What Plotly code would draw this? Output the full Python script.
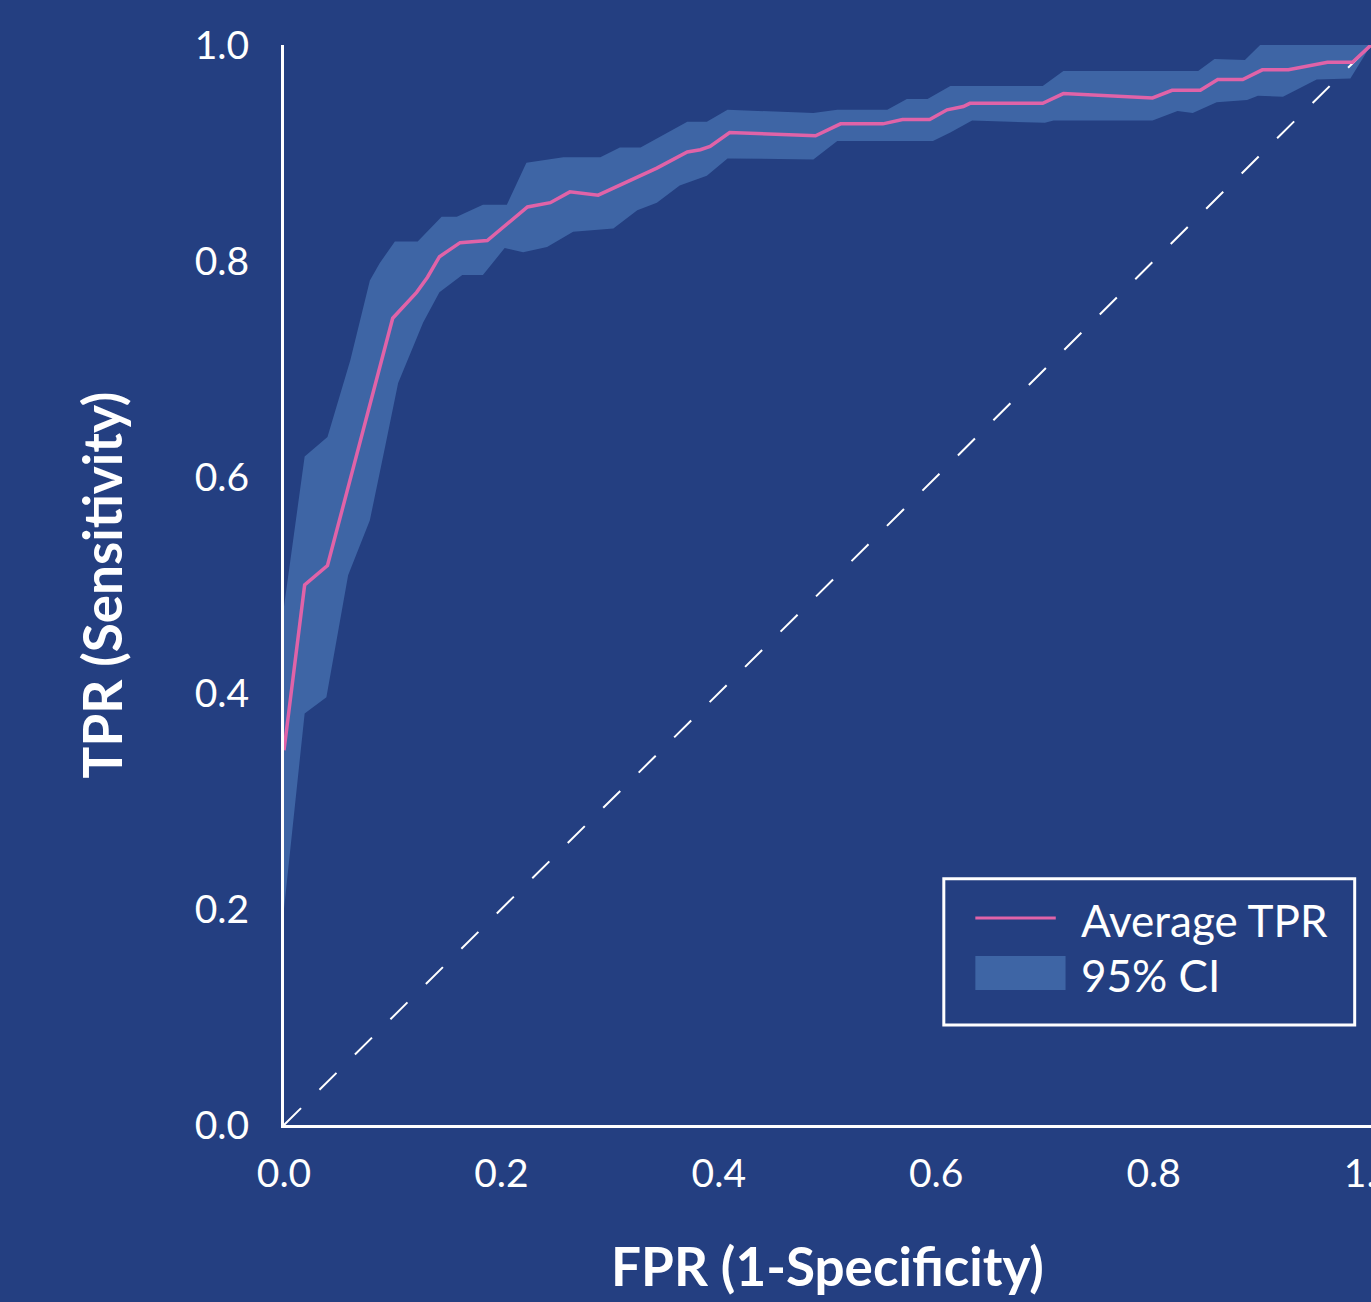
import plotly.graph_objects as go

# ---- data ----
mean_fpr = [0.0, 0.019, 0.040, 0.100, 0.122, 0.132, 0.143, 0.162, 0.187, 0.224, 0.245,
            0.263, 0.289, 0.343, 0.371, 0.383, 0.392, 0.410, 0.489, 0.512, 0.551, 0.569,
            0.594, 0.610, 0.625, 0.631, 0.698, 0.717, 0.799, 0.817, 0.843, 0.859, 0.882,
            0.900, 0.924, 0.960, 0.983, 1.0]
mean_tpr = [0.347, 0.500, 0.518, 0.747, 0.771, 0.785, 0.804, 0.817, 0.819, 0.850, 0.854,
            0.864, 0.861, 0.886, 0.901, 0.903, 0.906, 0.919, 0.916, 0.927, 0.927, 0.931,
            0.931, 0.940, 0.943, 0.946, 0.946, 0.955, 0.951, 0.958, 0.958, 0.968, 0.968,
            0.977, 0.977, 0.984, 0.984, 1.0]

upper_fpr = [0.0, 0.019, 0.040, 0.061, 0.079, 0.088, 0.102, 0.123, 0.145, 0.159, 0.183,
             0.205, 0.223, 0.257, 0.291, 0.309, 0.328, 0.371, 0.389, 0.408, 0.487, 0.509,
             0.555, 0.573, 0.592, 0.606, 0.613, 0.698, 0.717, 0.841, 0.856, 0.884, 0.898, 1.0]
upper_tpr = [0.480, 0.619, 0.637, 0.708, 0.782, 0.798, 0.818, 0.818, 0.841, 0.841, 0.852,
             0.852, 0.891, 0.896, 0.896, 0.905, 0.905, 0.929, 0.929, 0.940, 0.937, 0.940,
             0.940, 0.950, 0.950, 0.958, 0.962, 0.962, 0.976, 0.976, 0.987, 0.986, 1.0, 1.0]

lower_fpr = [0.0, 0.019, 0.039, 0.059, 0.079, 0.093, 0.105, 0.128, 0.143, 0.164, 0.183,
             0.203, 0.220, 0.242, 0.266, 0.303, 0.325, 0.343, 0.364, 0.389, 0.408, 0.487,
             0.509, 0.597, 0.613, 0.633, 0.700, 0.708, 0.799, 0.822, 0.836, 0.858, 0.886,
             0.896, 0.919, 0.928, 0.950, 0.981, 1.0]
lower_tpr = [0.200, 0.381, 0.396, 0.509, 0.560, 0.628, 0.687, 0.743, 0.771, 0.787, 0.787,
             0.812, 0.808, 0.813, 0.827, 0.830, 0.847, 0.854, 0.870, 0.879, 0.895, 0.894,
             0.911, 0.911, 0.919, 0.930, 0.928, 0.930, 0.930, 0.939, 0.937, 0.947, 0.949,
             0.953, 0.952, 0.957, 0.968, 0.969, 1.0]

chance = [0.0, 1.0]
tick_vals = [0.0, 0.2, 0.4, 0.6, 0.8, 1.0]
tick_text = ["0.0", "0.2", "0.4", "0.6", "0.8", "1.0"]
legend_labels = ["Average TPR", "95% CI"]

BG = "#243F81"
BAND = "#3E65A5"
PINK = "#E063A8"
WHITE = "#FFFFFF"
FONT = "Lato"

fig = go.Figure()

# confidence band polygon
fig.add_trace(go.Scatter(
    x=upper_fpr + lower_fpr[::-1],
    y=upper_tpr + lower_tpr[::-1],
    fill="toself", fillcolor=BAND, mode="lines", line=dict(width=0, color=BAND),
    hoverinfo="skip", showlegend=False, name=legend_labels[1]))

# chance diagonal
fig.add_trace(go.Scatter(
    x=chance, y=chance, mode="lines",
    line=dict(color=WHITE, width=2, dash="24px,26px"),
    showlegend=False, hoverinfo="skip"))

# mean ROC
fig.add_trace(go.Scatter(
    x=mean_fpr, y=mean_tpr, mode="lines",
    line=dict(color=PINK, width=3.5), showlegend=False, name=legend_labels[0]))

axis_common = dict(
    range=[0, 1], showgrid=False, zeroline=False, showline=True,
    linecolor=WHITE, linewidth=3, ticks="", tickvals=tick_vals, ticktext=tick_text,
    tickfont=dict(family=FONT, size=39, color=WHITE), ticklabeloverflow="allow",
)

fig.update_xaxes(**axis_common, ticklabelstandoff=12,
                 title=dict(text="<b>FPR (1-Specificity)</b>",
                            font=dict(family=FONT, size=53, color=WHITE), standoff=56))
fig.update_yaxes(**axis_common, ticklabelstandoff=24,
                 title=dict(text="<b>TPR (Sensitivity)</b>",
                            font=dict(family=FONT, size=53, color=WHITE), standoff=56))

# legend box drawn in paper coordinates
shapes = [
    dict(type="rect", xref="paper", yref="paper", x0=0.607, x1=0.985, y0=0.0926, y1=0.228,
         line=dict(color=WHITE, width=3), fillcolor="rgba(0,0,0,0)"),
    dict(type="line", xref="paper", yref="paper", x0=0.636, x1=0.710, y0=0.1917, y1=0.1917,
         line=dict(color=PINK, width=3)),
    dict(type="rect", xref="paper", yref="paper", x0=0.636, x1=0.719, y0=0.125, y1=0.1565,
         line=dict(width=0), fillcolor=BAND),
]
annotations = [
    dict(xref="paper", yref="paper", x=0.731, y=0.1900, text=legend_labels[0],
         showarrow=False, xanchor="left", yanchor="middle",
         font=dict(family=FONT, size=44, color=WHITE)),
    dict(xref="paper", yref="paper", x=0.731, y=0.1390, text=legend_labels[1],
         showarrow=False, xanchor="left", yanchor="middle",
         font=dict(family=FONT, size=44, color=WHITE)),
]

fig.update_layout(
    width=1371, height=1302,
    margin=dict(l=284, r=0, t=45, b=177, autoexpand=False),
    paper_bgcolor=BG, plot_bgcolor=BG,
    shapes=shapes, annotations=annotations,
    showlegend=False,
)

fig.write_html("out.html", config={"displayModeBar": False},
               post_script="document.body.style.margin='0';document.body.style.overflow='hidden';")
